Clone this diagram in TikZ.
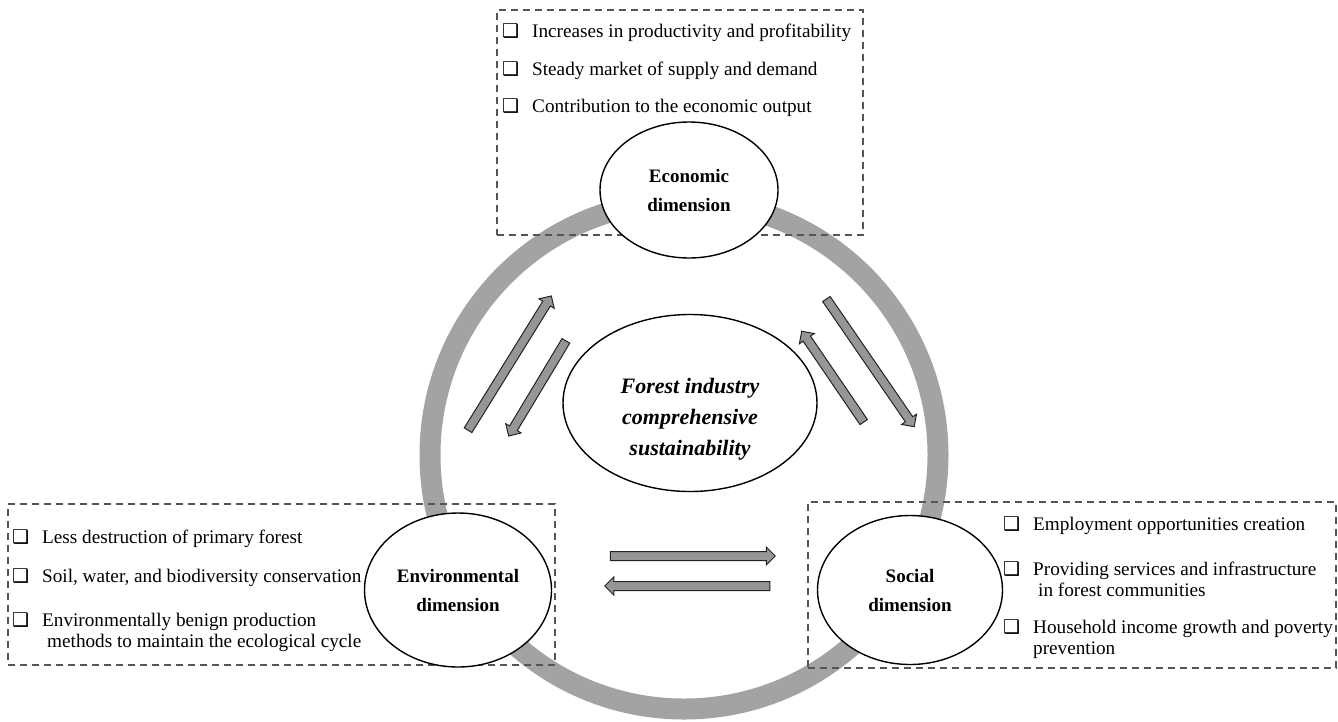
\documentclass[tikz,border=0pt]{standalone}
\usepackage{fontspec}
\setmainfont{Liberation Serif}
\newfontfamily\symfont{DejaVu Sans}
\usetikzlibrary{shapes.geometric, shapes.arrows, positioning}
\definecolor{colorRing}{RGB}{163, 163, 163}
\definecolor{colorArrow}{RGB}{150, 150, 150}
\definecolor{colorEdge}{RGB}{35, 35, 35}
\definecolor{colorDash}{RGB}{85, 85, 85}
\tikzstyle{dimension} = [ellipse, draw=black, line width=1.4pt, fill=white, inner sep=0pt, align=center, font=\fontsize{19}{29}\selectfont\bfseries]
\tikzstyle{hub} = [ellipse, draw=black, line width=1.4pt, fill=white, minimum width=254pt, minimum height=177pt]
\tikzstyle{hubtext} = [align=center, inner sep=0pt, font=\fontsize{22}{31}\selectfont\bfseries\itshape]
\tikzstyle{indicator} = [rectangle, draw=colorDash, line width=1.2pt, dash pattern=on 7pt off 5pt, inner sep=0pt]
\tikzstyle{item} = [anchor=base west, inner sep=0pt, font=\fontsize{19.2}{21}\selectfont]
\tikzstyle{flow} = [single arrow, draw=colorEdge, fill=colorArrow, line width=1pt, inner xsep=0pt, inner ysep=4pt, single arrow head extend=4.5pt]
\newcommand{\chk}{\makebox[30pt][l]{\symfont\bfseries\fontsize{19}{19}\selectfont ❑}}
\newcommand{\chkitem}[1]{\chk\begin{tabular}[t]{@{}l@{}}#1\end{tabular}}

\begin{document}
\begin{tikzpicture}[x=1pt, y=-1pt]
		\useasboundingbox (0,0) rectangle (1338,721);

		% ring
		\coordinate (ringCenter) at (684,455);
		\draw[colorRing, line width=21pt] (ringCenter) circle (254);

		% dashed boxes
		\node (boxEco)[indicator, minimum width=366pt, minimum height=225pt] at (680,122.5) {};
		\node (boxEnv)[indicator, minimum width=547pt, minimum height=161pt] at (281.5,584.5) {};
		\node (boxSoc)[indicator, minimum width=528pt, minimum height=166pt] at (1072,585) {};

		% economic items
		\node (eco1)[item] at (502,37.5) {\chkitem{Increases in productivity and profitability}};
		\node (eco2)[item] at (502,75.5) {\chkitem{Steady market of supply and demand}};
		\node (eco3)[item] at (502,112.5) {\chkitem{Contribution to the economic output}};

		% environmental items
		\node (env1)[item] at (12,543.5) {\chkitem{Less destruction of primary forest}};
		\node (env2)[item] at (12,582.5) {\chkitem{Soil, water, and biodiversity conservation}};
		\node (env3)[item] at (12,626.5) {\chkitem{Environmentally benign production\\\hspace{5pt}methods to maintain the ecological cycle}};

		% social items
		\node (soc1)[item] at (1003,530.5) {\chkitem{Employment opportunities creation}};
		\node (soc2)[item] at (1003,575.5) {\chkitem{Providing services and infrastructure\\\hspace{5pt}in forest communities}};
		\node (soc3)[item] at (1003,633.5) {\chkitem{Household income growth and poverty\\prevention}};

		% dimensions
		\node (eco)[dimension, minimum width=178pt, minimum height=136pt] at (689,190) {Economic\\dimension};
		\node (env)[dimension, minimum width=187pt, minimum height=154pt] at (458,590) {Environmental\\dimension};
		\node (soc)[dimension, minimum width=185pt, minimum height=149pt] at (910,590) {Social\\dimension};

		\node (hub)[hub] at (690,403) {};
		\node (hubLabel)[hubtext] at (690,419) {Forest industry\\comprehensive\\sustainability};

		% block arrows
		\node (flowEnvEco)[flow, minimum height=158pt, rotate=58.2] at (508.5,365) {};
		\node (flowEcoEnv)[flow, minimum height=111pt, rotate=-121] at (538.5,386.5) {};
		\node (flowSocEco)[flow, minimum height=110pt, rotate=124.3] at (834,378.5) {};
		\node (flowEcoSoc)[flow, minimum height=155pt, rotate=-55.5] at (869,361) {};
		\node (flowEnvSoc)[flow, minimum height=165pt] at (690.5,556) {};
		\node (flowSocEnv)[flow, minimum height=165pt, rotate=180] at (689.5,586) {};

	\end{tikzpicture}
\end{document}
